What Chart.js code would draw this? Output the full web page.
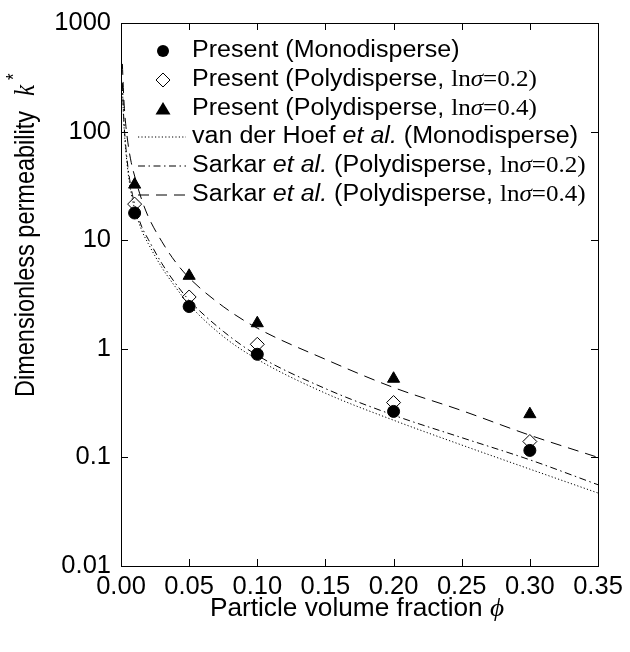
<!DOCTYPE html>
<html>
<head>
<meta charset="utf-8">
<script src="https://cdn.jsdelivr.net/npm/chart.js@4/dist/chart.umd.min.js"></script>
<style>
    html, body { margin: 0; padding: 0; background: #fff; }
    #wrap { width: 630px; height: 652px; }
</style>
</head>
<body>
<div id="wrap"><canvas id="permChart" width="630" height="652"></canvas></div>
<script>
// ====== data ======
const phiPoints = [0.01, 0.05, 0.1, 0.2, 0.3];
const kMono = [17.8, 2.45, 0.89, 0.265, 0.116];
const kPoly02 = [21.5, 3.0, 1.1, 0.32, 0.14];
const kPoly04 = [32.5, 4.7, 1.72, 0.53, 0.25];

const phiCurve = [0.001, 0.002, 0.003, 0.005, 0.0075, 0.01, 0.015, 0.02, 0.03, 0.04, 0.05, 0.075, 0.1, 0.15, 0.2, 0.25, 0.3, 0.35];
const kVanDerHoef = [260, 125, 80, 44, 27, 19.5, 12.5, 9.3, 5.6, 3.7, 2.55, 1.3, 0.8, 0.39, 0.22, 0.13, 0.078, 0.047];
const kSarkar02 = [280, 135, 87, 48, 30, 21.5, 13.5, 10.2, 6.1, 4.0, 2.8, 1.45, 0.87, 0.43, 0.245, 0.152, 0.095, 0.056];
const kSarkar04 = [420, 210, 135, 80, 52, 39, 24, 16.5, 9.7, 6.3, 4.5, 2.45, 1.55, 0.8, 0.44, 0.27, 0.16, 0.1];

const xTicks = [0, 0.05, 0.1, 0.15, 0.2, 0.25, 0.3, 0.35];
const yTicks = [0.01, 0.1, 1, 10, 100, 1000];
const yTickLabels = ["0.01", "0.1", "1", "10", "100", "1000"];

const SANS = "'Liberation Sans', Arial, sans-serif";
const SERIF = "'Liberation Serif', 'Times New Roman', serif";

const toXY = (xs, ys) => xs.map((x, i) => ({ x, y: ys[i] }));

// draw a row of text runs with different fonts, sx = horizontal stretch
function drawRuns(ctx, runs, x, y, sx = 1) {
    ctx.save();
    ctx.translate(x, y);
    ctx.scale(sx, 1);
    let cx = 0;
    runs.forEach((r) => {
        ctx.font = r.font;
        if (r.at !== undefined) cx = r.at;
        ctx.fillText(r.text, cx, r.dy || 0);
        cx += ctx.measureText(r.text).width;
    });
    ctx.restore();
    return cx * sx;
}

function runsWidth(ctx, runs) {
    let w = 0;
    runs.forEach((r) => { ctx.font = r.font; w += ctx.measureText(r.text).width; });
    return w;
}

function drawMarker(ctx, type, x, y) {
    ctx.save();
    ctx.lineWidth = 1;
    ctx.strokeStyle = "#000";
    ctx.fillStyle = "#000";
    ctx.beginPath();
    if (type === "circle") {
        ctx.arc(x, y, 6, 0, Math.PI * 2);
        ctx.fill();
    } else if (type === "diamond") {
        ctx.fillStyle = "#fff";
        ctx.moveTo(x, y - 7);
        ctx.lineTo(x + 7, y);
        ctx.lineTo(x, y + 7);
        ctx.lineTo(x - 7, y);
        ctx.closePath();
        ctx.fill();
        ctx.stroke();
    } else if (type === "triangle") {
        ctx.moveTo(x, y - 7);
        ctx.lineTo(x + 7.5, y + 5.5);
        ctx.lineTo(x - 7.5, y + 5.5);
        ctx.closePath();
        ctx.fill();
    }
    ctx.restore();
}

function drawLineSample(ctx, dash, x1, x2, y) {
    ctx.save();
    ctx.strokeStyle = "#000";
    ctx.lineWidth = 1;
    ctx.setLineDash(dash);
    ctx.beginPath();
    ctx.moveTo(x1, y);
    ctx.lineTo(x2, y);
    ctx.stroke();
    ctx.restore();
}

const DOTTED = [1.2, 2.2];
const DASHDOT = [7, 3.5, 1.5, 3.5];
const DASHED = [11, 7];

const LF = 23; // legend font size
const lnSigma = (v) => [
    { text: "ln", font: `${LF}px ${SERIF}` },
    { text: "\u03C3", font: `italic ${LF}px ${SERIF}` },
    { text: `=${v})`, font: `${LF}px ${SERIF}` },
];

const legendRows = [
    { marker: "circle", runs: [{ text: "Present (Monodisperse)", font: `${LF}px ${SANS}` }] },
    { marker: "diamond", runs: [{ text: "Present (Polydisperse, ", font: `${LF}px ${SANS}` }, ...lnSigma("0.2")] },
    { marker: "triangle", runs: [{ text: "Present (Polydisperse, ", font: `${LF}px ${SANS}` }, ...lnSigma("0.4")] },
    {
        dash: DOTTED,
        runs: [
            { text: "van der Hoef ", font: `${LF}px ${SANS}` },
            { text: "et al.", font: `italic ${LF}px ${SANS}` },
            { text: " (Monodisperse)", font: `${LF}px ${SANS}` },
        ],
    },
    {
        dash: DASHDOT,
        runs: [
            { text: "Sarkar ", font: `${LF}px ${SANS}` },
            { text: "et al.", font: `italic ${LF}px ${SANS}` },
            { text: " (Polydisperse, ", font: `${LF}px ${SANS}` },
            ...lnSigma("0.2"),
        ],
    },
    {
        dash: DASHED,
        runs: [
            { text: "Sarkar ", font: `${LF}px ${SANS}` },
            { text: "et al.", font: `italic ${LF}px ${SANS}` },
            { text: " (Polydisperse, ", font: `${LF}px ${SANS}` },
            ...lnSigma("0.4"),
        ],
    },
];

/* ====== frame, inward ticks, legend and axis titles ====== */
const figurePlugin = {
    id: "figureDecor",
    afterDraw(chart) {
        const { ctx, chartArea: a, scales } = chart;
        const tl = 7;
        ctx.save();
        ctx.strokeStyle = "#000";
        ctx.lineWidth = 1;
        ctx.strokeRect(Math.round(a.left) + 0.5, Math.round(a.top) + 0.5, Math.round(a.right - a.left), Math.round(a.bottom - a.top));

        ctx.beginPath();
        xTicks.forEach((v) => {
            const px = Math.round(scales.x.getPixelForValue(v)) + 0.5;
            ctx.moveTo(px, a.bottom);
            ctx.lineTo(px, a.bottom - tl);
            ctx.moveTo(px, a.top);
            ctx.lineTo(px, a.top + tl);
        });
        yTicks.forEach((v) => {
            const py = Math.round(scales.y.getPixelForValue(v)) + 0.5;
            ctx.moveTo(a.left, py);
            ctx.lineTo(a.left + tl, py);
            ctx.moveTo(a.right, py);
            ctx.lineTo(a.right - tl, py);
        });
        ctx.stroke();

        // legend
        ctx.fillStyle = "#000";
        ctx.textBaseline = "middle";
        ctx.textAlign = "left";
        const rowY = [51, 80, 109, 137, 166, 195];
        legendRows.forEach((row, i) => {
            const y = rowY[i];
            if (row.marker) drawMarker(ctx, row.marker, 163, y);
            if (row.dash) drawLineSample(ctx, row.dash, 138, 186, y);
            drawRuns(ctx, row.runs, 192, y, 1.09);
        });

        // x axis title
        ctx.textBaseline = "alphabetic";
        const xRuns = [
            { text: "Particle volume fraction ", font: `25px ${SANS}` },
            { text: "\u03D5", font: `italic 26px ${SERIF}` },
        ];
        const w = runsWidth(ctx, xRuns) * 1.05;
        drawRuns(ctx, xRuns, 357 - w / 2, 616, 1.05);

        // y axis title (rotated)
        ctx.translate(34, 397);
        ctx.rotate(-Math.PI / 2);
        ctx.scale(1, 1.15);
        drawRuns(ctx, [
            { text: "Dimensionless permeability", font: `23.5px ${SANS}` },
            { text: "k", font: `italic 25px ${SERIF}`, at: 301 },
            { text: "*", font: `17px ${SANS}`, dy: -12, at: 317 },
        ], 0, 0);
        ctx.restore();
    },
};

const pointSet = (label, ys, style, radius, fill) => ({
    label,
    data: toXY(phiPoints, ys),
    showLine: false,
    pointStyle: style,
    pointRadius: radius,
    pointBackgroundColor: fill,
    pointBorderColor: "#000",
    pointBorderWidth: 1,
});

const curveSet = (label, ys, dash) => ({
    label,
    data: toXY(phiCurve, ys),
    showLine: true,
    borderColor: "#000",
    borderWidth: 1,
    borderDash: dash,
    pointRadius: 0,
    cubicInterpolationMode: "monotone",
});

new Chart(document.getElementById("permChart").getContext("2d"), {
    type: "scatter",
    data: {
        datasets: [
            curveSet("van der Hoef et al. (Monodisperse)", kVanDerHoef, DOTTED),
            curveSet("Sarkar et al. (Polydisperse, ln\u03C3=0.2)", kSarkar02, DASHDOT),
            curveSet("Sarkar et al. (Polydisperse, ln\u03C3=0.4)", kSarkar04, DASHED),
            pointSet("Present (Monodisperse)", kMono, "circle", 6, "#000"),
            pointSet("Present (Polydisperse, ln\u03C3=0.2)", kPoly02, "rectRot", 7, "#fff"),
            pointSet("Present (Polydisperse, ln\u03C3=0.4)", kPoly04, "triangle", 7, "#000"),
        ],
    },
    options: {
        responsive: false,
        animation: false,
        layout: { padding: { top: 23, right: 32, left: 0, bottom: 0 } },
        plugins: {
            legend: { display: false },
            tooltip: { enabled: false },
        },
        scales: {
            x: {
                type: "linear",
                min: 0,
                max: 0.35,
                afterBuildTicks: (s) => { s.ticks = xTicks.map((v) => ({ value: v })); },
                afterFit: (s) => { s.height = 86; },
                grid: { display: false },
                border: { display: false },
                ticks: {
                    color: "#000",
                    padding: -2,
                    font: { family: SANS, size: 25.5 },
                    callback: (v) => Number(v).toFixed(2),
                },
            },
            y: {
                type: "logarithmic",
                min: 0.01,
                max: 1000,
                afterBuildTicks: (s) => { s.ticks = yTicks.map((v) => ({ value: v })); },
                afterFit: (s) => { s.width = 121; },
                grid: { display: false },
                border: { display: false },
                ticks: {
                    color: "#000",
                    padding: 2,
                    font: { family: SANS, size: 25.5 },
                    callback: (v) => yTickLabels[yTicks.indexOf(v)] ?? "",
                },
            },
        },
    },
    plugins: [figurePlugin],
});
</script>
</body>
</html>
